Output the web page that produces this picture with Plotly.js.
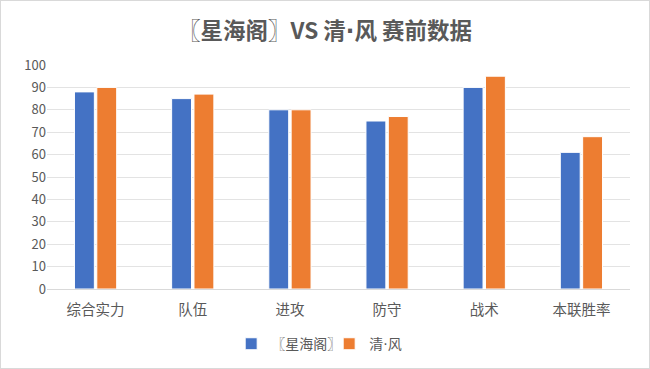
<!DOCTYPE html>
<html><head><meta charset="utf-8">
<script src="https://cdn.plot.ly/plotly-3.0.1.min.js"></script>
<style>html,body{margin:0;padding:0;background:#fff;}#c{width:648px;height:367px;border:1px solid #d9d9d9;}</style>
</head><body><div id="c"></div>
<script>
const categories = ['综合实力','队伍','进攻','防守','战术','本联胜率'];
const seriesA = [88, 85, 80, 75, 90, 61];
const seriesB = [90, 87, 80, 77, 95, 68];
const nameA = '〖星海阁〗';
const nameB = '清<span style="font-family:DejaVu Sans">·</span>风';
const yTicks = [0,10,20,30,40,50,60,70,80,90,100];
const font = '"Noto Sans CJK SC", "Microsoft YaHei", sans-serif';
const data = [
  {type:'bar', x:categories, y:seriesA, name:nameA, marker:{color:'#4472C4', line:{color:'#ffffff', width:1}}},
  {type:'bar', x:categories, y:seriesB, name:nameB, marker:{color:'#ED7D31', line:{color:'#ffffff', width:1}}}
];
const layout = {
  width:648, height:367,
  margin:{l:46, r:19, t:64, b:79},
  paper_bgcolor:'#fff', plot_bgcolor:'#fff',
  font:{family:font, color:'#595959', size:12},
  title:{text:'<b>〖星海阁〗VS 清<span style="font-family:DejaVu Sans">·</span>风 赛前数据</b>', x:0.5, xanchor:'center', yref:'container', y:0.918, yanchor:'middle', font:{family:font, size:22.5, color:'#595959'}},
  barmode:'group', bargap:0.54, bargroupgap:0.11,
  xaxis:{showgrid:false, showline:true, linecolor:'#d9d9d9', linewidth:1, ticks:'', ticklabelstandoff:8, tickfont:{size:14.5, color:'#595959'}, fixedrange:true},
  yaxis:{range:[0,100], tickvals:yTicks, ticktext:yTicks.map(String), showgrid:true, gridcolor:'#e3e3e3', gridwidth:1, zeroline:false, showline:false, ticks:'', tickfont:{size:13, color:'#595959'}, fixedrange:true},
  legend:{orientation:'h', x:0.484, xanchor:'center', yref:'container', y:0.065, yanchor:'middle', font:{size:14, color:'#595959'}, itemwidth:30, entrywidth:53},
  showlegend:true
};
Plotly.newPlot('c', data, layout, {displayModeBar:false, staticPlot:true});
</script>
</body></html>
